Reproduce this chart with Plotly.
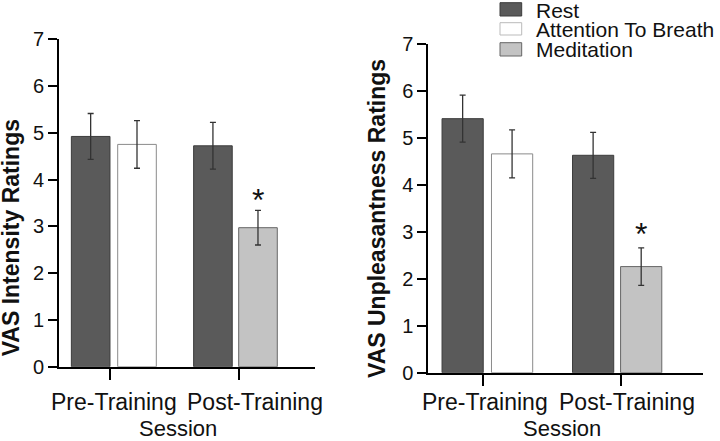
import plotly.graph_objects as go

# ---- data ----
sessions = ["Pre-Training", "Post-Training"]
conditions = ["Rest", "Attention To Breath", "Meditation"]

# VAS Intensity
int_rest = [4.92, 4.72]
int_rest_err = [0.49, 0.50]
int_attn = [4.75]          # Pre-Training only
int_attn_err = [0.51]
int_med = [2.97]           # Post-Training only
int_med_err = [0.37]

# VAS Unpleasantness
unp_rest = [5.41, 4.63]
unp_rest_err = [0.50, 0.49]
unp_attn = [4.66]
unp_attn_err = [0.51]
unp_med = [2.26]
unp_med_err = [0.40]

y_ticks = [0, 1, 2, 3, 4, 5, 6, 7]

# ---- styles ----
W, H = 720, 441
FONT = "Liberation Sans, Arial, sans-serif"
fills = {"Rest": "#5a5a5a", "Attention To Breath": "#ffffff", "Meditation": "#c3c3c3"}
edges = {"Rest": "#3c3c3c", "Attention To Breath": "#8a8a8a", "Meditation": "#666666"}
BW = 0.30
offs = {"Rest": [-0.30, -0.35], "Attention To Breath": [0.06], "Meditation": [0.0]}


def px_x(p):
    return p / W


def px_y(p):
    return 1 - p / H


fig = go.Figure()

panels = [
    dict(xa="x", ya="y", rest=int_rest, rest_e=int_rest_err, attn=int_attn, attn_e=int_attn_err,
         med=int_med, med_e=int_med_err, star_shift=-10, sess_x=177.5),
    dict(xa="x2", ya="y2", rest=unp_rest, rest_e=unp_rest_err, attn=unp_attn, attn_e=unp_attn_err,
         med=unp_med, med_e=unp_med_err, star_shift=-6, sess_x=561.5),
]

for p in panels:
    series = [
        ("Rest", sessions, p["rest"], p["rest_e"]),
        ("Attention To Breath", sessions[:1], p["attn"], p["attn_e"]),
        ("Meditation", sessions[1:], p["med"], p["med_e"]),
    ]
    for name, xs, ys, es in series:
        fig.add_trace(go.Bar(
            x=xs, y=ys, name=name, xaxis=p["xa"], yaxis=p["ya"],
            width=BW, offset=offs[name],
            marker=dict(color=fills[name], line=dict(color=edges[name], width=1)),
            error_y=dict(type="data", array=es, visible=True, color="#333333",
                         thickness=1.3, width=3),
            showlegend=False,
        ))

axis_common = dict(showline=True, linecolor="black", linewidth=2, ticks="outside",
                   tickcolor="black", tickwidth=2, showgrid=False, zeroline=False,
                   automargin=False)

fig.update_layout(
    width=W, height=H,
    margin=dict(l=0, r=0, t=0, b=0),
    paper_bgcolor="white", plot_bgcolor="white",
    barmode="overlay",
    font=dict(family=FONT, color="#111111"),
    xaxis=dict(domain=[px_x(59), px_x(315)], range=[-0.396, 1.593], type="category",
               categoryorder="array", categoryarray=sessions, ticklen=11,
               showticklabels=False, anchor="y", **axis_common),
    yaxis=dict(domain=[px_y(366.7), px_y(39.1)], range=[0, 7], tickvals=y_ticks,
               ticklen=9, tickfont=dict(size=20), anchor="x", **axis_common),
    xaxis2=dict(domain=[px_x(428.3), px_x(703)], range=[-0.40, 1.60], type="category",
                categoryorder="array", categoryarray=sessions, ticklen=11,
                showticklabels=False, anchor="y2", **axis_common),
    yaxis2=dict(domain=[px_y(372.7), px_y(44)], range=[0, 7], tickvals=y_ticks,
                ticklen=9, tickfont=dict(size=20), anchor="x2", **axis_common),
)

ann = []
# x tick labels
label_shift = [[4, 16], [2, 6]]
for i, xa in enumerate(["x", "x2"]):
    for j, s in enumerate(sessions):
        ann.append(dict(x=s, xref=xa, y=px_y(401.7), yref="paper", text=s, showarrow=False,
                        xanchor="center", yanchor="middle", xshift=label_shift[i][j],
                        font=dict(size=23, family=FONT)))
# x titles
for p in panels:
    ann.append(dict(x=px_x(p["sess_x"]), y=0, xref="paper", yref="paper", text="Session",
                    showarrow=False, xanchor="center", yanchor="bottom", yshift=-2,
                    font=dict(size=22, family=FONT)))
# y titles
ann.append(dict(x=px_x(11), y=px_y(238.3), xref="paper", yref="paper",
                text="<b>VAS Intensity Ratings</b>", textangle=-90, showarrow=False,
                xanchor="center", yanchor="middle",
                font=dict(size=23, family=FONT)))
ann.append(dict(x=px_x(377), y=px_y(219), xref="paper", yref="paper",
                text="<b>VAS Unpleasantness Ratings</b>", textangle=-90, showarrow=False,
                xanchor="center", yanchor="middle",
                font=dict(size=23, family=FONT)))
# significance asterisks above Meditation bars
for p in panels:
    ann.append(dict(x=1 + offs["Meditation"][0] + BW / 2, xref=p["xa"], y=p["med"][0] + p["med_e"][0],
                    yref=p["ya"], text="*", showarrow=False, xanchor="center", yanchor="bottom",
                    yshift=p["star_shift"], font=dict(size=32, family=FONT)))

# manual legend
leg_box_y = [(2.7, 16), (22.7, 35), (42.7, 56)]
leg_text_y = [10.3, 29.3, 50]
shapes = []
for k, name in enumerate(conditions):
    y0, y1 = leg_box_y[k]
    shapes.append(dict(type="rect", xref="paper", yref="paper", x0=px_x(500), x1=px_x(521.7),
                       y0=px_y(y1), y1=px_y(y0), fillcolor=fills[name],
                       line=dict(color=edges[name] if name != "Attention To Breath" else "#bbbbbb", width=1)))
    ann.append(dict(x=px_x(534), y=px_y(leg_text_y[k]), xref="paper", yref="paper", text=name,
                    showarrow=False, xanchor="left", yanchor="middle",
                    font=dict(size=21, family=FONT)))

fig.update_layout(annotations=ann, shapes=shapes)
fig.write_html("out.html", config={"displayModeBar": False},
               post_script="document.body.style.margin='0px';")
